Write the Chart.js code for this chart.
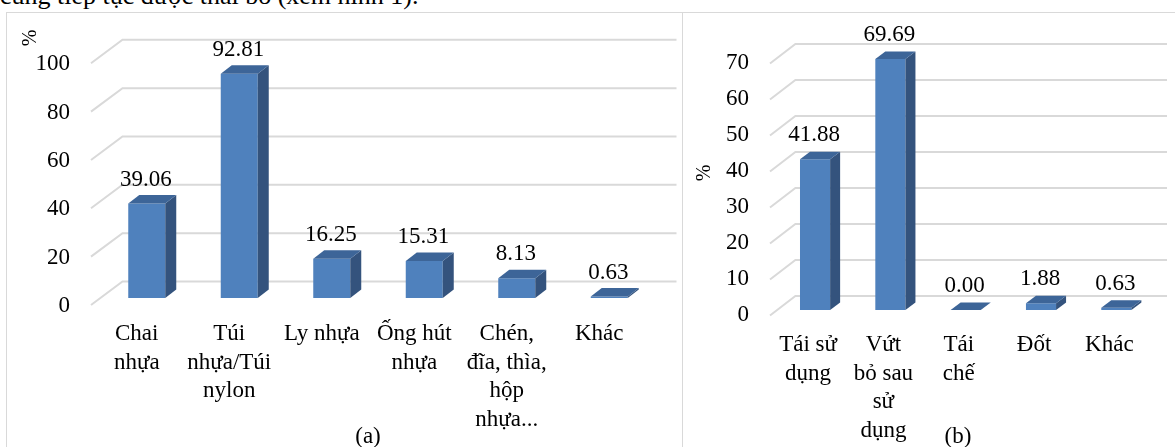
<!DOCTYPE html>
<html>
<head>
<meta charset="utf-8">
<script src="https://cdn.jsdelivr.net/npm/chart.js@4.4.1/dist/chart.umd.min.js"></script>
<style>
  html, body { margin: 0; padding: 0; background: #fff; }
  body { width: 1175px; height: 447px; position: relative; overflow: hidden; font-family: 'Liberation Serif', 'Times New Roman', serif; color: #000; }
  .lead { position: absolute; left: 0; top: -17px; font-size: 26px; line-height: 26px; white-space: nowrap; }
  .rule { position: absolute; background: #d9d9d9; }
  .cap { position: absolute; top: 422px; font-size: 23px; line-height: 28px; width: 60px; text-align: center; }
  canvas { position: absolute; top: 12px; }
</style>
</head>
<body>
<div class="lead">cũng tiếp tục được thải bỏ (xem hình 1).</div>
<div class="rule" style="left:6px; top:12px; width:1169px; height:1px"></div>
<div class="rule" style="left:6px; top:12px; width:1px; height:435px"></div>
<div class="rule" style="left:682px; top:12px; width:1px; height:435px"></div>
<canvas id="chartA" width="677" height="435" style="left:6px"></canvas>
<canvas id="chartB" width="492" height="435" style="left:683px"></canvas>
<div class="cap" style="left:338px">(a)</div>
<div class="cap" style="left:928px">(b)</div>
<script>
// (a) loại đồ nhựa sử dụng
const usageLabels = [['Chai', 'nhựa'], ['Túi', 'nhựa/Túi', 'nylon'], ['Ly nhựa'], ['Ống hút', 'nhựa'], ['Chén,', 'đĩa, thìa,', 'hộp', 'nhựa...'], ['Khác']]
const usageValues = [39.06, 92.81, 16.25, 15.31, 8.13, 0.63]
const usageTicks = [0, 20, 40, 60, 80, 100]

// (b) cách xử lý sau sử dụng
const disposalLabels = [['Tái sử', 'dụng'], ['Vứt', 'bỏ sau', 'sử', 'dụng'], ['Tái', 'chế'], ['Đốt'], ['Khác']]
const disposalValues = [41.88, 69.69, 0.00, 1.88, 0.63]
const disposalTicks = [0, 10, 20, 30, 40, 50, 60, 70]

const FONT = "'Liberation Serif', 'Times New Roman', serif"

// fake 3D: back wall grid, bar side/top faces, value labels, unit
const depth3d = {
  id: 'depth3d',
  beforeDatasetsDraw(chart, args, opts) {
    const { ctx, chartArea: area, scales: { y } } = chart
    ctx.save()
    ctx.strokeStyle = '#d9d9d9'
    ctx.lineWidth = 2
    y.ticks.forEach(t => {
      const py = y.getPixelForValue(t.value)
      ctx.beginPath()
      ctx.moveTo(area.left + opts.front[0], py + opts.front[1])
      ctx.lineTo(area.left + opts.back[0], py + opts.back[1])
      ctx.lineTo(area.right + opts.gridEnd, py + opts.back[1])
      ctx.stroke()
    })
    ctx.restore()
  },
  afterDatasetsDraw(chart, args, opts) {
    const { ctx } = chart
    const [dx, dy] = opts.bar
    const values = chart.data.datasets[0].data
    ctx.save()
    chart.getDatasetMeta(0).data.forEach((bar, i) => {
      const { x, y, base, width } = bar.getProps(['x', 'y', 'base', 'width'], true)
      const l = x - width / 2
      const r = x + width / 2
      ctx.fillStyle = '#34537d'
      ctx.beginPath()
      ctx.moveTo(r, y)
      ctx.lineTo(r + dx, y + dy)
      ctx.lineTo(r + dx, base + dy)
      ctx.lineTo(r, base)
      ctx.closePath()
      ctx.fill()
      ctx.fillStyle = '#3d6598'
      ctx.beginPath()
      ctx.moveTo(l, y)
      ctx.lineTo(l + dx, y + dy)
      ctx.lineTo(r + dx, y + dy)
      ctx.lineTo(r, y)
      ctx.closePath()
      ctx.fill()
      ctx.fillStyle = '#000'
      ctx.font = '23px ' + FONT
      ctx.textAlign = 'center'
      ctx.textBaseline = 'middle'
      ctx.fillText(values[i].toFixed(2), x - 1, y + opts.labelDy)
    })
    // đơn vị %
    ctx.translate(opts.unit[0], opts.unit[1])
    ctx.rotate(-Math.PI / 2)
    ctx.font = '20px ' + FONT
    ctx.fillText('%', 0, 0)
    ctx.restore()
  }
}

function build(id, labels, values, ticks, cfg) {
  return new Chart(document.getElementById(id), {
    type: 'bar',
    data: {
      labels: labels,
      datasets: [{
        data: values,
        backgroundColor: '#4f81bd',
        borderWidth: 0,
        categoryPercentage: 1,
        barPercentage: 0.4
      }]
    },
    options: {
      responsive: false,
      animation: false,
      layout: { padding: { top: cfg.top, right: cfg.right, left: 0, bottom: 0 } },
      plugins: {
        legend: { display: false },
        tooltip: { enabled: false },
        depth3d: cfg.depth
      },
      scales: {
        x: {
          grid: { display: false, drawTicks: false },
          border: { display: false },
          ticks: {
            color: '#000',
            font: { family: FONT, size: 23, lineHeight: 1.24 },
            padding: cfg.xPad,
            labelOffset: cfg.xOffset,
            maxRotation: 0,
            autoSkip: false
          },
          afterFit(scale) { scale.height = cfg.xHeight }
        },
        y: {
          min: ticks[0],
          max: ticks[ticks.length - 1],
          grid: { display: false, drawTicks: false },
          border: { display: false },
          ticks: {
            stepSize: ticks[1] - ticks[0],
            color: '#000',
            font: { family: FONT, size: 23 },
            padding: cfg.yPad,
            labelOffset: cfg.yOffset
          },
          afterFit(scale) { scale.width = cfg.yWidth }
        }
      }
    },
    plugins: [depth3d]
  })
}

build('chartA', usageLabels, usageValues, usageTicks, {
  top: 43, right: 27.5, yWidth: 94.5, xHeight: 149,
  xPad: 22, xOffset: -10, yPad: 30.5, yOffset: 8,
  depth: { front: [-9.5, 7], back: [22, -16.5], gridEnd: 21, bar: [11, -8.5], labelDy: -24, unit: [25, 26] }
})

build('chartB', disposalLabels, disposalValues, disposalTicks, {
  top: 46, right: 21, yWidth: 94.4, xHeight: 137,
  xPad: 21, xOffset: -7, yPad: 28.4, yOffset: 5,
  depth: { front: [-7.4, 5.5], back: [18, -14], gridEnd: 13, bar: [10, -7.5], labelDy: -24, unit: [22, 161] }
})
</script>
</body>
</html>
